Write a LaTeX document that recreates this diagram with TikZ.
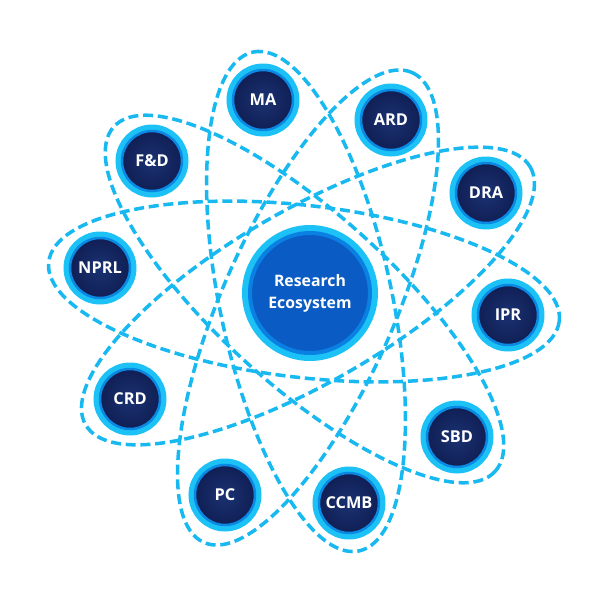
\documentclass[tikz,border=0pt]{standalone}
\usepackage{fontspec}
\setmainfont{Open Sans}
\usetikzlibrary{calc,backgrounds}
\definecolor{OrbitCyan}{HTML}{18B8F0}
\definecolor{RingCyan}{HTML}{1CC2F6}
\definecolor{RingBlue}{HTML}{0A88E2}
\definecolor{SatCore}{HTML}{1A3272}
\definecolor{SatEdge}{HTML}{070C38}
\definecolor{HubFill}{HTML}{0A5CC4}
\definecolor{HubRing}{HTML}{0A80E2}
\pgfdeclareradialshading{satglow}{\pgfpoint{0bp}{0bp}}{%
    color(0bp)=(SatCore); color(50bp)=(SatEdge)}
\tikzset{
    eco/diagram/.style={
        x=0.02cm, y=-0.02cm,
        line cap=butt,
        every node/.style={inner sep=0pt}
    },
    eco/orbit/.style={
        draw=OrbitCyan, line width=2pt,
        dash pattern=on 5.7pt off 2.7pt
    },
    eco/sat/.style={
        circle, minimum size=12mm,
        shading=satglow, draw=RingBlue, line width=0.5mm,
        preaction={draw=RingCyan, line width=2.6mm},
        text=white, font=\bfseries\fontsize{9.3}{10}\selectfont
    },
    eco/hub/.style={
        circle, minimum size=24mm,
        fill=HubFill, draw=HubRing, line width=0.8mm,
        preaction={draw=RingCyan, line width=3.2mm},
        text=white, align=center,
        font=\bfseries\fontsize{9}{12.5}\selectfont
    }
}
\begin{document}
\begin{tikzpicture}[eco/diagram]
    \useasboundingbox (0,0) rectangle (600,600);
    \node[eco/hub] (hub) at (310,293) {Research\\Ecosystem};
    \node[eco/sat] (ma)   at (263,100) {MA};
    \node[eco/sat] (ard)  at (391,120) {ARD};
    \node[eco/sat] (dra)  at (486,193) {DRA};
    \node[eco/sat] (ipr)  at (508,315) {IPR};
    \node[eco/sat] (sbd)  at (457,437) {SBD};
    \node[eco/sat] (ccmb) at (349,503) {CCMB};
    \node[eco/sat] (pc)   at (225,495) {PC};
    \node[eco/sat] (crd)  at (130,399) {CRD};
    \node[eco/sat] (nprl) at (100,268) {NPRL};
    \node[eco/sat] (fd)   at (152,161) {F\&D};
    % each orbit joins two opposite satellites
    \begin{scope}[on background layer]
        \coordinate (o1) at ($(nprl)!0.5!(ipr)$);
        \coordinate (o2) at ($(crd)!0.5!(dra)$);
        \coordinate (o3) at ($(pc)!0.5!(ard)$);
        \coordinate (o4) at ($(ma)!0.5!(ccmb)$);
        \coordinate (o5) at ($(fd)!0.5!(sbd)$);
        \draw[eco/orbit, rotate around={-6.6:(o1)}] (o1) ellipse [x radius=257, y radius=86];
        \draw[eco/orbit, rotate around={30.1:(o2)}] (o2) ellipse [x radius=257, y radius=86];
        \draw[eco/orbit, rotate around={66.1:(o3)}] (o3) ellipse [x radius=257, y radius=86];
        \draw[eco/orbit, rotate around={102:(o4)}]  (o4) ellipse [x radius=255, y radius=86];
        \draw[eco/orbit, rotate around={-42.1:(o5)}] (o5) ellipse [x radius=257, y radius=86];
    \end{scope}
\end{tikzpicture}
\end{document}
